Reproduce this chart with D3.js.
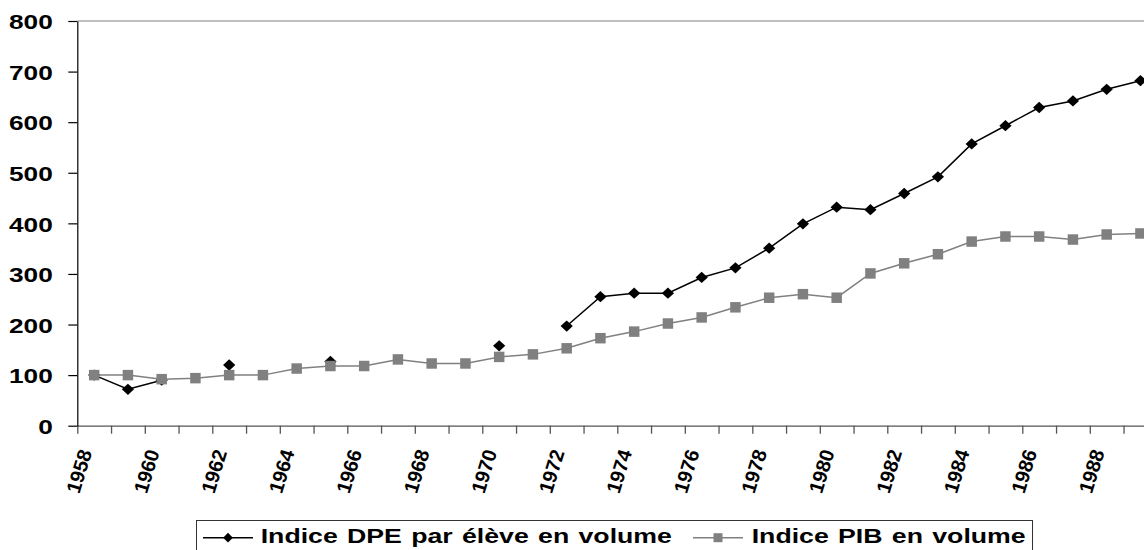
<!DOCTYPE html>
<html>
<head>
<meta charset="utf-8">
<script src="https://cdn.jsdelivr.net/npm/d3@7"></script>
<style>
body { margin: 0; background: #fff; }
svg text { font-family: "Liberation Sans", Arial, sans-serif; font-weight: bold; fill: #000; }
</style>
</head>
<body>
<div id="chart"></div>
<script>
// data (index base 100 in 1958)
const years = [1958, 1959, 1960, 1961, 1962, 1963, 1964, 1965, 1966, 1967, 1968, 1969, 1970, 1971, 1972, 1973,
    1974, 1975, 1976, 1977, 1978, 1979, 1980, 1981, 1982, 1983, 1984, 1985, 1986, 1987, 1988, 1989];
const dpeValues = [100, 72, 90, null, 120, null, null, 127, null, null, null, null, 158, null, 197, 255,
    262, 262, 293, 312, 351, 399, 432, 427, 459, 492, 557, 593, 629, 642, 665, 682];
const pibValues = [100, 100, 92, 94, 100, 100, 113, 118, 118, 131, 123, 123, 136, 141, 153, 173,
    186, 202, 214, 234, 253, 260, 253, 301, 321, 339, 364, 374, 374, 368, 378, 380];
const yTicks = [0, 100, 200, 300, 400, 500, 600, 700, 800];
const labelYears = [1958, 1960, 1962, 1964, 1966, 1968, 1970, 1972, 1974, 1976, 1978, 1980, 1982, 1984, 1986, 1988];
const seriesNames = ['Indice DPE par élève en volume', 'Indice PIB en volume'];

const W = 1144, H = 550;
const plotLeft = 77.3, plotTop = 21, plotBottom = 425.7;

const svg = d3.select('#chart').append('svg')
    .attr('width', W)
    .attr('height', H);

// category axis: one slot per year, ticks between slots
const x = d3.scaleLinear()
    .domain([years[0], years[years.length - 1] + 1])
    .range([plotLeft, plotLeft + 33.75 * years.length]);
const y = d3.scaleLinear()
    .domain([0, 800])
    .range([plotBottom, plotTop]);

const cx = yr => x(yr + 0.5);

// top border of plot area
svg.append('line')
    .attr('x1', plotLeft).attr('x2', x.range()[1])
    .attr('y1', y(800)).attr('y2', y(800))
    .attr('stroke', '#808080').attr('stroke-width', 1);

// x axis
const xAxis = svg.append('g')
    .attr('transform', `translate(0,${plotBottom})`)
    .call(d3.axisBottom(x)
        .tickValues(years.concat([years[years.length - 1] + 1]))
        .tickSize(8).tickSizeOuter(0)
        .tickFormat(''));
xAxis.selectAll('path, line').attr('stroke', '#555').attr('stroke-width', 1.3);

svg.append('g').selectAll('text')
    .data(labelYears)
    .enter().append('text')
    .attr('transform', d => `translate(${cx(d) - 2},452) rotate(-73)`)
    .attr('text-anchor', 'end')
    .style('font-size', '20px')
    .text(d => d);

// y axis
const yAxis = svg.append('g')
    .attr('transform', `translate(${plotLeft},0)`)
    .call(d3.axisLeft(y).tickValues(yTicks).tickSize(9).tickSizeOuter(0));
yAxis.selectAll('path, line').attr('stroke', '#000').attr('stroke-width', 1.2);
yAxis.selectAll('text')
    .attr('x', null).attr('dy', null)
    .attr('transform', `translate(-24.5,7.8) scale(1.25,1)`)
    .attr('text-anchor', 'end')
    .style('font-size', '21px')
    .attr('fill', '#000');
yAxis.attr('font-family', null).attr('font-size', null);

const diamond = d3.symbol(d3.symbolSquare, 75)();
const square = d3.symbol(d3.symbolSquare, 110)();

const dpe = years.map((yr, i) => ({yr: yr, v: dpeValues[i]}));
const pib = years.map((yr, i) => ({yr: yr, v: pibValues[i]}));

const line = d3.line()
    .defined(d => d.v != null)
    .x(d => cx(d.yr))
    .y(d => y(d.v));

// DPE series (black, with gaps)
svg.append('path')
    .datum(dpe)
    .attr('d', line)
    .attr('fill', 'none')
    .attr('stroke', '#000')
    .attr('stroke-width', 1.5);

svg.append('g').selectAll('path')
    .data(dpe.filter(d => d.v != null))
    .enter().append('path')
    .attr('d', diamond)
    .attr('transform', d => `translate(${cx(d.yr)},${y(d.v)}) scale(1,0.92) rotate(45)`)
    .attr('fill', '#000');

// PIB series (grey squares), drawn on top
svg.append('path')
    .datum(pib)
    .attr('d', line)
    .attr('fill', 'none')
    .attr('stroke', '#808080')
    .attr('stroke-width', 1.5);

svg.append('g').selectAll('path')
    .data(pib)
    .enter().append('path')
    .attr('d', square)
    .attr('transform', d => `translate(${cx(d.yr)},${y(d.v)})`)
    .attr('fill', '#808080');

// legend
const lg = svg.append('g');
lg.append('rect')
    .attr('x', 196.5).attr('y', 520.5)
    .attr('width', 836).attr('height', 40)
    .attr('fill', 'none')
    .attr('stroke', '#333').attr('stroke-width', 1);

const legendItems = [
    {name: seriesNames[0], x0: 203, color: '#000', marker: d3.symbol(d3.symbolSquare, 48)(), rot: 45, tx: 260.7},
    {name: seriesNames[1], x0: 693, color: '#808080', marker: d3.symbol(d3.symbolSquare, 81)(), rot: 0, tx: 751.7}
];
const ly = 537.7;
legendItems.forEach(it => {
    lg.append('line')
        .attr('x1', it.x0).attr('x2', it.x0 + 50)
        .attr('y1', ly).attr('y2', ly)
        .attr('stroke', it.color).attr('stroke-width', 1.5);
    lg.append('path')
        .attr('d', it.marker)
        .attr('transform', `translate(${it.x0 + 25},${ly}) rotate(${it.rot})`)
        .attr('fill', it.color);
    lg.append('text')
        .attr('transform', `translate(${it.tx},543.3) scale(1.27,1)`)
        .style('font-size', '21px')
        .style('word-spacing', '1.5px')
        .text(it.name);
});
</script>
</body>
</html>
